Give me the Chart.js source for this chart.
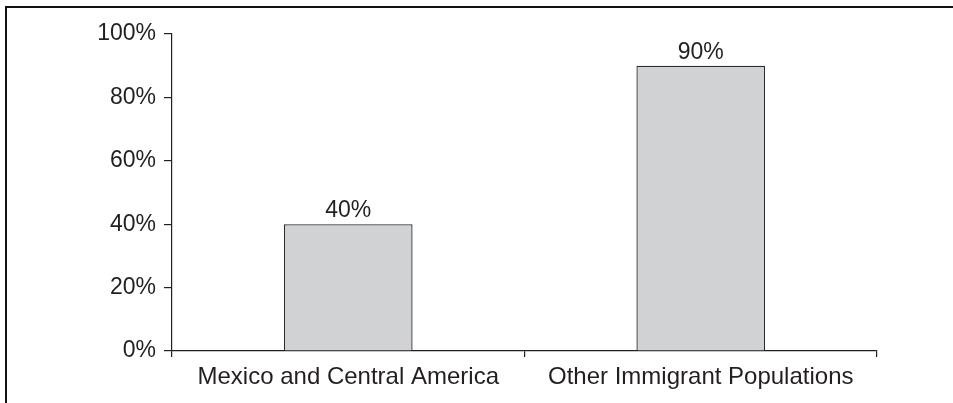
<!DOCTYPE html>
<html>
<head>
<meta charset="utf-8">
<script src="https://cdn.jsdelivr.net/npm/chart.js@4"></script>
<style>
  html, body { margin: 0; padding: 0; background: #fff; }
  #wrap { position: relative; width: 953px; height: 403px; overflow: hidden; }
  #frame {
    position: absolute; left: 5px; top: 6px; right: -10px; bottom: -10px;
    border-top: 2px solid #111; border-left: 2px solid #111;
    pointer-events: none;
  }
  canvas { position: absolute; left: 0; top: 0; }
</style>
</head>
<body>
<div id="wrap">
  <canvas id="chart" width="953" height="403"></canvas>
  <div id="frame"></div>
</div>
<script>
const categories = ['Mexico and Central America', 'Other Immigrant Populations'];
const shares = [40, 90];
const yTicks = [0, 20, 40, 60, 80, 100];

const INK = '#231f20';
const FONT = 'Liberation Sans, Arial, Helvetica, sans-serif';

// value labels above each bar
const barLabels = {
    id: 'barLabels',
    afterDatasetsDraw(chart) {
        const ctx = chart.ctx;
        const meta = chart.getDatasetMeta(0);
        ctx.save();
        ctx.fillStyle = INK;
        ctx.font = '23px ' + FONT;
        ctx.textAlign = 'center';
        ctx.textBaseline = 'alphabetic';
        meta.data.forEach((bar, i) => {
            ctx.fillText(shares[i] + '%', bar.x, bar.y - 7);
        });
        ctx.restore();
    }
};

new Chart(document.getElementById('chart'), {
    type: 'bar',
    data: {
        labels: categories,
        datasets: [{
            data: shares,
            backgroundColor: '#d1d2d4',
            borderColor: '#2b2b2b',
            borderWidth: 1.3,
            borderSkipped: 'bottom',
            barPercentage: 0.73,
            categoryPercentage: 0.5
        }]
    },
    options: {
        responsive: false,
        animation: false,
        events: [],
        layout: { padding: { left: 0, right: 76, top: 34, bottom: 0 } },
        plugins: {
            legend: { display: false },
            tooltip: { enabled: false }
        },
        scales: {
            x: {
                offset: true,
                grid: {
                    offset: true,
                    drawOnChartArea: false,
                    drawTicks: true,
                    tickLength: 6,
                    tickColor: INK,
                    lineWidth: 1.2
                },
                border: { display: true, color: INK, width: 1.2 },
                ticks: {
                    color: INK,
                    font: { family: FONT, size: 24 },
                    padding: 6,
                    maxRotation: 0,
                    autoSkip: false
                },
                afterFit(scale) { scale.height = 52; }
            },
            y: {
                min: 0,
                max: 100,
                afterBuildTicks(scale) {
                    scale.ticks = yTicks.map(v => ({ value: v }));
                },
                grid: {
                    drawOnChartArea: false,
                    drawTicks: true,
                    tickLength: 8,
                    tickColor: INK,
                    lineWidth: 1.2
                },
                border: { display: true, color: INK, width: 1.2 },
                ticks: {
                    color: INK,
                    font: { family: FONT, size: 23 },
                    padding: 8,
                    callback: v => v + '%'
                },
                afterFit(scale) { scale.width = 172; }
            }
        }
    },
    plugins: [barLabels]
});
</script>
</body>
</html>
